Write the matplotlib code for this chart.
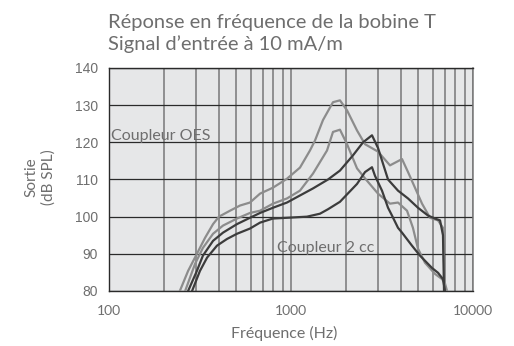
import matplotlib
matplotlib.use("Agg")
import matplotlib.pyplot as plt
from matplotlib.ticker import FixedLocator, NullFormatter

# courbes (Hz, dB SPL)
oes_haut_f = [245, 272, 304, 337, 373, 402, 462, 525, 595, 676, 796, 950, 1120, 1271, 1355, 1499,
              1701, 1858, 2032, 2305, 2551, 3006, 3498, 4074, 4395, 4799, 5248, 5806, 6425, 6840,
              6930, 7020]
oes_haut_db = [80, 85.4, 90, 94.3, 98, 100, 101.6, 103, 103.8, 106.2, 107.8, 110.2, 113.2, 117.8, 120.5, 126,
               130.8, 131.3, 128.6, 123.2, 119.5, 117.5, 113.8, 115.5, 112, 107.8, 103.5, 99.7, 99, 97,
               88, 80]

oes_bas_f = [262, 297, 328, 373, 423, 505, 595, 676, 796, 950, 1120, 1321, 1577, 1701, 1858, 2032,
             2305, 2551, 3006, 3498, 3872, 4340, 4677, 4985, 5447, 6183, 6760, 7020, 7200]
oes_bas_db = [80, 87.3, 91.6, 95.4, 97.6, 99.5, 101, 101.6, 103.5, 104.9, 107, 111.6, 117.8, 122.8, 123.4, 119.5,
              113, 110.3, 106.2, 103.5, 103.8, 101.6, 97, 91.4, 87.6, 84.6, 83.2, 82, 80]

cc_haut_f = [272, 304, 328, 373, 423, 505, 595, 676, 796, 950, 1120, 1321, 1597, 1858, 2191, 2488,
             2786, 3006, 3413, 3872, 4395, 4985, 5660, 6183, 6590, 6840, 6930]
cc_haut_db = [80, 85.4, 89.5, 93.5, 95.7, 98, 99.7, 101, 102.4, 103.8, 105.7, 107.6, 110, 112.4, 116.5, 120,
              121.9, 118.5, 110, 107, 104.9, 102.4, 100.3, 99.5, 99, 95, 80]

cc_bas_f = [286, 316, 346, 392, 445, 505, 595, 676, 796, 950, 1224, 1443, 1597, 1858, 2032, 2305,
            2551, 2786, 2894, 3162, 3413, 3589, 3872, 4074, 4620, 5117, 5953, 6425, 6840, 7020]
cc_bas_db = [80, 85.4, 89, 92.2, 94, 95.4, 96.8, 98.4, 99.5, 99.7, 100, 100.8, 102, 104, 106, 108.8,
             112, 113.3, 111, 107, 102.4, 100.3, 97, 95.7, 92.2, 89.5, 86.2, 84.9, 83.2, 80]

y_ticks = [80, 90, 100, 110, 120, 130, 140]
x_ticks = [100, 1000, 10000]
x_minor = [200, 300, 400, 500, 600, 700, 800, 900,
           2000, 3000, 4000, 5000, 6000, 7000, 8000, 9000]

clair = "#8c8c8c"
fonce = "#3c3c3c"
texte = "#6e6e6e"

fig = plt.figure(figsize=(5.14, 3.46), dpi=100)
ax = fig.add_axes([109 / 514, 1 - 291 / 346, 364 / 514, 223 / 346])
ax.set_facecolor("#e6e7e8")

ax.set_xscale("log")
ax.set_xlim(100, 10000)
ax.set_ylim(80, 140)

# grille
for v in x_minor + x_ticks:
    ax.axvline(v, color="#787878", lw=1.1, zorder=1)
for v in y_ticks:
    ax.axhline(v, color="#2a2a2a", lw=0.9, zorder=1)

ax.plot(oes_haut_f, oes_haut_db, color=clair, lw=1.6, zorder=3, solid_joinstyle="round")
ax.plot(oes_bas_f, oes_bas_db, color=clair, lw=1.6, zorder=3, solid_joinstyle="round")
ax.plot(cc_haut_f, cc_haut_db, color=fonce, lw=1.6, zorder=3, solid_joinstyle="round")
ax.plot(cc_bas_f, cc_bas_db, color=fonce, lw=1.6, zorder=3, solid_joinstyle="round")

for s in ["left", "bottom", "top"]:
    ax.spines[s].set_color("#2a2a2a")
    ax.spines[s].set_linewidth(1.0)
ax.spines["right"].set_color("#787878")
ax.spines["right"].set_linewidth(1.1)

ax.xaxis.set_major_locator(FixedLocator(x_ticks))
ax.xaxis.set_minor_locator(FixedLocator(x_minor))
ax.xaxis.set_minor_formatter(NullFormatter())
ax.set_xticklabels([str(v) for v in x_ticks], fontfamily="Lato", fontsize=10, color=texte)
ax.set_yticks(y_ticks)
ax.set_yticklabels([str(v) for v in y_ticks], fontfamily="Liberation Sans", fontsize=10, color=texte)
ax.tick_params(axis="x", which="both", length=0, pad=10)
ax.tick_params(axis="y", length=0, pad=8)

ax.text(102.5, 121.6, "Coupleur OES", fontfamily="Lato", fontsize=11.5,
        color=texte, ha="left", va="center", zorder=4)
ax.text(838, 91.6, "Coupleur 2 cc", fontfamily="Lato", fontsize=11.5,
        color=texte, ha="left", va="center", zorder=4)

fig.text(108 / 514, 1 - 28 / 346, "Réponse en fréquence de la bobine T", fontfamily="Lato",
         fontsize=14.5, color=texte, ha="left", va="baseline")
fig.text(108 / 514, 1 - 50 / 346, "Signal d’entrée à 10 mA/m", fontfamily="Lato",
         fontsize=14.5, color=texte, ha="left", va="baseline")
fig.text(284 / 514, 1 - 333 / 346, "Fréquence (Hz)", fontfamily="Lato",
         fontsize=11.5, color=texte, ha="center", va="center")
fig.text(40 / 514, 1 - 177 / 346, "Sortie\n(dB SPL)", fontfamily="Lato",
         fontsize=11, color=texte, ha="center", va="center", rotation=90, multialignment="center")

fig.savefig("out.png", dpi=100, facecolor="white")
